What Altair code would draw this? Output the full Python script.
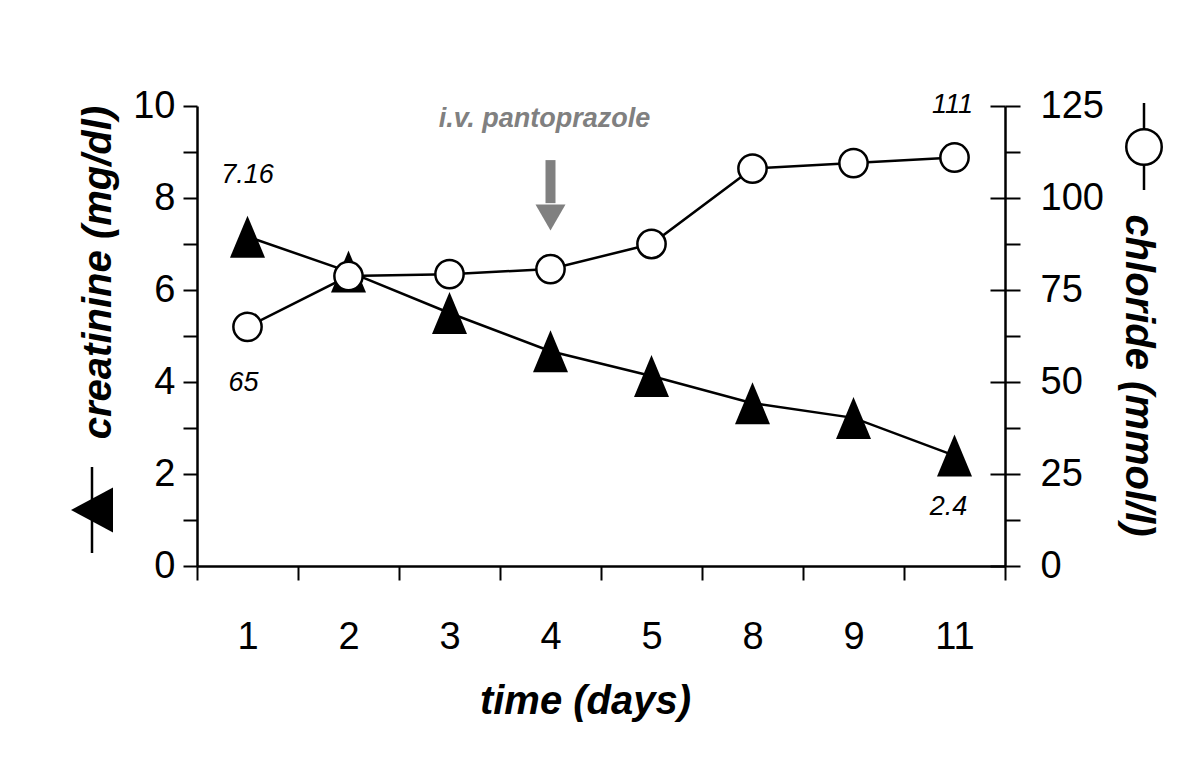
import altair as alt
import pandas as pd

# ---- data ----
days = ["1", "2", "3", "4", "5", "8", "9", "11"]
creatinine = [7.16, 6.4, 5.5, 4.67, 4.13, 3.54, 3.22, 2.4]
chloride = [65, 78.8, 79.3, 80.7, 87.5, 108, 109.5, 111]

left_ticks = list(range(0, 11))
right_ticks = [0, 12.5, 25, 37.5, 50, 62.5, 75, 87.5, 100, 112.5, 125]
right_major = [0, 25, 50, 75, 100, 125]

arrow_day = ["4"]
arrow_top = [110.3]
arrow_shaft_end = [98.6]
arrow_head = [94.7]
arrow_text = ["i.v. pantoprazole"]
arrow_text_y = [119.3]

df = pd.DataFrame({"day": days, "creat": creatinine, "chlor": chloride})
df["idx"] = range(len(days))
arrow_df = pd.DataFrame({"day": arrow_day, "top": arrow_top, "shaft": arrow_shaft_end,
                         "head": arrow_head, "txt": arrow_text, "ty": arrow_text_y})
one = pd.DataFrame({"k": [0]})

FONT = "Liberation Sans"
GRAY = "#808080"
TICK_FS = 38
TITLE_FS = 40
ANN_FS = 27

xaxis = alt.Axis(
    tickBand="extent", tickSize=14, tickWidth=2, tickColor="black",
    domainColor="black", domainWidth=2.5,
    labelPadding=38, labelBaseline="top", labelAngle=0, labelFont=FONT,
    labelFontSize=TICK_FS, labelColor="black", grid=False,
    title="time (days)", titleFont=FONT, titleFontSize=TITLE_FS, titleFontWeight="bold",
    titleFontStyle="italic", titleColor="black", titleX=388, titleY=147,
    titleBaseline="alphabetic", titleAlign="center",
)


def xenc():
    return alt.X("day:N", sort=days,
                 scale=alt.Scale(type="band", paddingInner=0, paddingOuter=0),
                 bandPosition=0.5, axis=xaxis)


left_axis = alt.Axis(
    orient="left", values=left_ticks,
    labelExpr="datum.value % 2 === 0 ? datum.label : ''",
    tickSize=14, tickWidth=2, tickColor="black", domainColor="black", domainWidth=2.5,
    labelPadding=8, labelFont=FONT, labelFontSize=TICK_FS, labelColor="black",
    labelOverlap=False, grid=False,
    title="creatinine (mg/dl)", titleFont=FONT, titleFontSize=TITLE_FS, titleFontWeight="bold",
    titleFontStyle="italic", titleColor="black", titleAngle=270, titleX=-87, titleY=166,
    titleBaseline="alphabetic", titleAlign="center",
)

right_axis = alt.Axis(
    orient="right", values=right_ticks,
    labelExpr="datum.value % 25 === 0 ? datum.label : ''",
    tickSize=15, tickWidth=2, tickColor="black", domainColor="black", domainWidth=2.5,
    labelPadding=20, labelFont=FONT, labelFontSize=TICK_FS, labelColor="black",
    labelOverlap=False, grid=False,
    title="chloride (mmol/l)", titleFont=FONT, titleFontSize=TITLE_FS, titleFontWeight="bold",
    titleFontStyle="italic", titleColor="black", titleAngle=90, titleX=120, titleY=269,
    titleBaseline="alphabetic", titleAlign="center",
)

inner_axis = alt.Axis(
    orient="right", values=right_major, offset=-15, tickSize=15, tickWidth=2,
    tickColor="black", domain=False, labels=False, grid=False, title=None,
)

yl_scale = alt.Scale(domain=[0, 10], nice=False)
yr_scale = alt.Scale(domain=[0, 125], nice=False)

# ---- creatinine group ----
base_c = alt.Chart(df)
c_line = base_c.mark_line(color="black", strokeWidth=2.5).encode(
    x=xenc(), y=alt.Y("creat:Q", scale=yl_scale, axis=left_axis))
c_pts = base_c.mark_point(shape="M0,-1.2L1,1.2L-1,1.2Z", size=1225, filled=True,
                          color="black", opacity=1).encode(
    x=xenc(), y=alt.Y("creat:Q", scale=yl_scale, axis=left_axis))
c_first = base_c.transform_filter("datum.idx == 0").transform_calculate(
    lbl="'' + datum.creat").mark_text(
    font=FONT, fontSize=ANN_FS, fontStyle="italic", color="black", dy=-54,
    baseline="alphabetic", align="center").encode(
    x=xenc(), y=alt.Y("creat:Q", scale=yl_scale, axis=left_axis), text="lbl:N")
c_last = base_c.transform_filter("datum.idx == 7").transform_calculate(
    lbl="'' + datum.creat").mark_text(
    font=FONT, fontSize=ANN_FS, fontStyle="italic", color="black", dy=59, dx=-6,
    baseline="alphabetic", align="center").encode(
    x=xenc(), y=alt.Y("creat:Q", scale=yl_scale, axis=left_axis), text="lbl:N")

glyph_l_rule = alt.Chart(one).mark_rule(color="black", strokeWidth=2.5).encode(
    x=alt.value(-105), y=alt.value(361), y2=alt.value(447))
glyph_l_tri = alt.Chart(one).mark_point(shape="M-1,0L1,-1.07L1,1.07Z", size=1764,
                                         filled=True, color="black", opacity=1).encode(
    x=alt.value(-105), y=alt.value(404))

group_c = alt.layer(c_line, c_pts, c_first, c_last, glyph_l_rule, glyph_l_tri)

# ---- chloride group ----
base_r = alt.Chart(df)
r_line = base_r.mark_line(color="black", strokeWidth=2.5).encode(
    x=xenc(), y=alt.Y("chlor:Q", scale=yr_scale, axis=right_axis))
r_pts = base_r.mark_point(shape="circle", size=800, fill="white", stroke="black",
                          strokeWidth=2.5, fillOpacity=1, opacity=1).encode(
    x=xenc(), y=alt.Y("chlor:Q", scale=yr_scale, axis=right_axis))
r_first = base_r.transform_filter("datum.idx == 0").transform_calculate(
    lbl="'' + datum.chlor").mark_text(
    font=FONT, fontSize=ANN_FS, fontStyle="italic", color="black", dy=64, dx=-4,
    baseline="alphabetic", align="center").encode(
    x=xenc(), y=alt.Y("chlor:Q", scale=yr_scale, axis=right_axis), text="lbl:N")
r_last = base_r.transform_filter("datum.idx == 7").transform_calculate(
    lbl="'' + datum.chlor").mark_text(
    font=FONT, fontSize=ANN_FS, fontStyle="italic", color="black", dy=-45, dx=-2,
    baseline="alphabetic", align="center").encode(
    x=xenc(), y=alt.Y("chlor:Q", scale=yr_scale, axis=right_axis), text="lbl:N")

arr = alt.Chart(arrow_df)
arr_shaft = arr.mark_rule(color=GRAY, strokeWidth=10, strokeCap="butt").encode(
    x=xenc(), y=alt.Y("top:Q", scale=yr_scale, axis=right_axis), y2="shaft:Q")
arr_head = arr.mark_point(shape="triangle-down", size=900, filled=True, color=GRAY,
                          opacity=1).encode(
    x=xenc(), y=alt.Y("head:Q", scale=yr_scale, axis=right_axis))
arr_txt = arr.mark_text(font=FONT, fontSize=ANN_FS, fontWeight="bold", fontStyle="italic",
                        color=GRAY, dx=-6, baseline="alphabetic", align="center").encode(
    x=xenc(), y=alt.Y("ty:Q", scale=yr_scale, axis=right_axis), text="txt:N")

glyph_r_rule = alt.Chart(one).mark_rule(color="black", strokeWidth=2.5).encode(
    x=alt.value(947), y=alt.value(-3), y2=alt.value(84))
glyph_r_circ = alt.Chart(one).mark_point(shape="circle", size=1257, fill="white",
                                          stroke="black", strokeWidth=2.5, fillOpacity=1,
                                          opacity=1).encode(
    x=alt.value(947), y=alt.value(41))

group_r = alt.layer(r_line, r_pts, r_first, r_last, arr_shaft, arr_head, arr_txt,
                    glyph_r_rule, glyph_r_circ)

# ---- inner crossing ticks on right axis ----
group_t = alt.Chart(df).mark_point(opacity=0).encode(
    x=xenc(), y=alt.Y("chlor:Q", scale=yr_scale, axis=inner_axis))

chart = alt.layer(group_c, group_r, group_t).resolve_scale(y="independent").properties(
    width=808, height=460,
    autosize=alt.AutoSizeParams(type="none"),
    padding={"left": 189, "top": 98, "right": 180, "bottom": 180},
    background="white",
).configure_view(strokeWidth=0)

chart.save("out.html", embed_options={"renderer": "svg", "actions": False})
